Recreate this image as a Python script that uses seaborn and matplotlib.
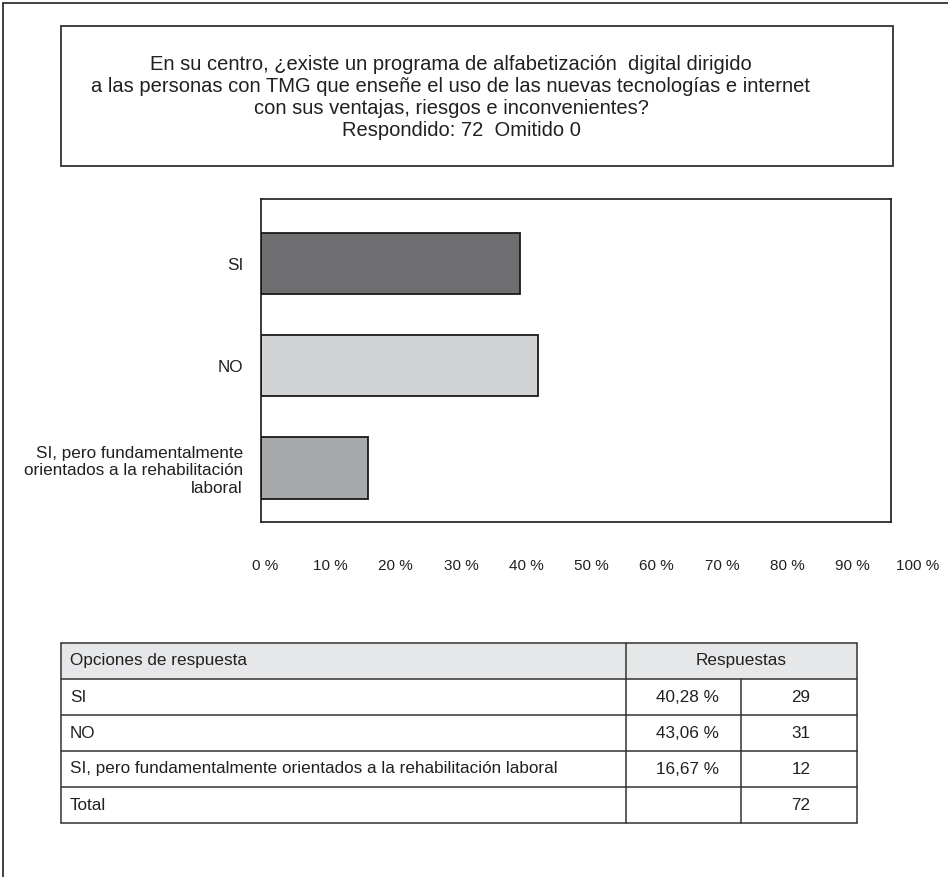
import matplotlib
matplotlib.use("Agg")
import matplotlib.pyplot as plt
import seaborn as sns
import pandas as pd
from matplotlib.patches import Rectangle

# ---------------- data ----------------
question = ("En su centro, ¿existe un programa de alfabetización  digital dirigido\n"
            "a las personas con TMG que enseñe el uso de las nuevas tecnologías e internet\n"
            "con sus ventajas, riesgos e inconvenientes?")
answered = 72
omitted = 0
categories = ["SI", "NO",
              "SI, pero fundamentalmente orientados a la rehabilitación laboral"]
axis_labels = ["SI", "NO",
               "SI, pero fundamentalmente\norientados a la rehabilitación\nlaboral"]
percentages = [40.28, 43.06, 16.67]
counts = [29, 31, 12]
total = 72
tick_values = [0, 10, 20, 30, 40, 50, 60, 70, 80, 90, 100]
tick_labels = [f"{v} %" for v in tick_values]
bar_colors = ["#6d6e71", "#d1d3d4", "#a7a9ac"]

# ---------------- setup ----------------
W, H = 948, 877
sns.set_theme(style="white")
plt.rcParams["font.family"] = ["Liberation Sans", "DejaVu Sans"]
TXT = "#231f20"
LINE = "#333333"
FS = 12.3

fig = plt.figure(figsize=(W / 100, H / 100), dpi=100)


def rect(x0, y0, x1, y1):
    return [x0 / W, 1 - y1 / H, (x1 - x0) / W, (y1 - y0) / H]


# overlay for page frame, title box and table (pixel coordinates)
bg = fig.add_axes([0, 0, 1, 1])
bg.set_xlim(0, W)
bg.set_ylim(H, 0)
bg.axis("off")
bg.plot([3, 3], [H, 3], color=LINE, lw=1.3)
bg.plot([3, W], [3, 3], color=LINE, lw=1.3)

# title box
bg.add_patch(Rectangle((61, 26), 893 - 61, 166 - 26, fill=False, ec=LINE, lw=1.3))
bg.text(451, 86, question, ha="center", va="center", fontsize=14.5,
        color=TXT, linespacing=1.2)
bg.text(461, 130, f"Respondido: {answered}  Omitido {omitted}",
        ha="center", va="center", fontsize=14.5, color=TXT)

# ---------------- bar chart ----------------
df = pd.DataFrame({"label": axis_labels, "pct": percentages})
ax = fig.add_axes(rect(261, 199, 891, 522))
sns.barplot(data=df, x="pct", y="label", hue="label", palette=bar_colors,
            orient="h", width=0.6, edgecolor="#1a1a1a", linewidth=1.3,
            legend=False, ax=ax)
ax.set_xlim(0, 98.1)
ax.set_ylim(2.53, -0.635)
ax.set_xlabel("")
ax.set_ylabel("")
ax.set_xticks([])
ax.tick_params(axis="y", length=0, pad=13, labelsize=FS, labelcolor=TXT)
for s in ax.spines.values():
    s.set_visible(True)
    s.set_color("#1a1a1a")
    s.set_linewidth(1.2)

# tick labels axis (percent scale)
tx = fig.add_axes(rect(265, 555, 918, 556))
tx.set_xlim(0, 100)
tx.set_xticks(tick_values)
tx.set_xticklabels(tick_labels)
tx.set_yticks([])
tx.tick_params(axis="x", length=0, pad=2, labelsize=11, labelcolor=TXT)
tx.patch.set_alpha(0)
for s in tx.spines.values():
    s.set_visible(False)

# ---------------- table ----------------
x0, xc1, xc2, x1 = 61, 626, 741, 857
row_h = 36
top = 643
rows = [(c, f"{p:.2f} %".replace(".", ","), str(n))
        for c, p, n in zip(categories, percentages, counts)]
rows.append(("Total", "", str(total)))
n_rows = len(rows) + 1
bottom = top + n_rows * row_h

bg.add_patch(Rectangle((x0, top), x1 - x0, row_h, fc="#e6e7e8", ec="none"))
for i in range(n_rows + 1):
    y = top + i * row_h
    bg.plot([x0, x1], [y, y], color=LINE, lw=1.1)
bg.plot([x0, x0], [top, bottom], color=LINE, lw=1.1)
bg.plot([x1, x1], [top, bottom], color=LINE, lw=1.1)
bg.plot([xc1, xc1], [top, bottom], color=LINE, lw=1.1)
bg.plot([xc2, xc2], [top + row_h, bottom], color=LINE, lw=1.1)

bg.text(x0 + 9, top + row_h / 2, "Opciones de respuesta", ha="left", va="center",
        fontsize=FS, color=TXT)
bg.text((xc1 + x1) / 2, top + row_h / 2, "Respuestas", ha="center", va="center",
        fontsize=FS, color=TXT)
for i, (c, p, n) in enumerate(rows):
    yc = top + (i + 1.5) * row_h
    bg.text(x0 + 9, yc, c, ha="left", va="center", fontsize=FS, color=TXT)
    bg.text((xc1 + xc2) / 2 + 4, yc, p, ha="center", va="center", fontsize=FS, color=TXT)
    bg.text((xc2 + x1) / 2 + 2, yc, n, ha="center", va="center", fontsize=FS, color=TXT)

fig.savefig("out.png", dpi=100)
